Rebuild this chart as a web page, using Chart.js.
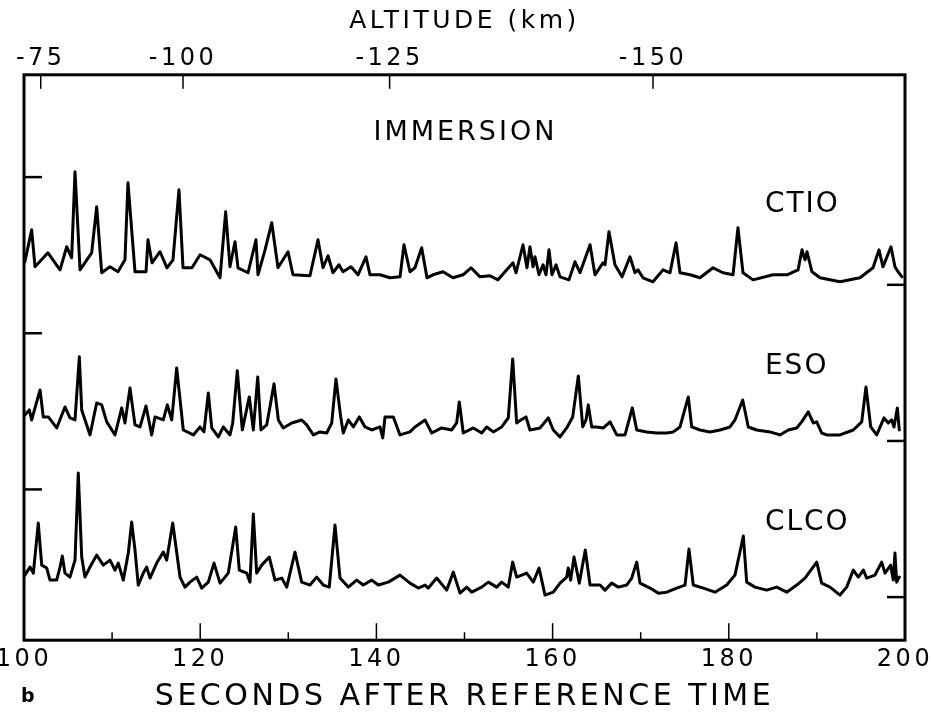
<!DOCTYPE html>
<html><head><meta charset="utf-8">
<script src="https://cdn.jsdelivr.net/npm/chart.js@4.4.1/dist/chart.umd.min.js"></script>
<style>html,body{margin:0;padding:0;background:#fff;}#wrap{width:931px;height:715px;}</style>
</head><body><div id="wrap"><canvas id="c" width="931" height="715"></canvas></div>
<script>
// ---- data (seconds after reference time, relative signal) ----
const secondsTicks = [100, 120, 140, 160, 180, 200];
const secondsMinorTicks = [110, 130, 150, 170, 190];
const altitudeTickSeconds = [101.9, 118.05, 141.5, 171.4];
const altitudeLabels = ['-75', '-100', '-125', '-150'];
const stationNames = ['CTIO', 'ESO', 'CLCO'];
const traceOffsets = [29, 14.5, 0];
const referenceLevel = 10;

const ctioTime = [
100.1,100.87,101.25,102.72,104.09,104.85,105.41,105.79,106.36,107.68,
108.25,108.82,109.76,110.67,111.46,111.8,112.6,113.85,114.07,114.53,
115.44,116.23,116.91,117.59,118.05,119.07,119.98,121.11,122.25,122.89,
123.38,123.95,124.29,125.43,126.33,126.56,127.36,128.12,128.83,129.97,
130.53,132.46,133.37,133.94,134.51,135.07,135.75,136.21,137.12,137.91,
138.82,139.27,140.41,141.54,142.68,143.13,143.81,144.38,145.14,145.74,
146.42,147.56,148.69,149.83,150.74,151.76,152.89,153.8,154.6,155.51,
155.85,156.64,157.09,157.43,157.78,158.0,158.46,158.91,159.25,159.59,
159.93,160.39,160.84,161.86,162.54,163.11,164.25,164.81,165.72,165.95,
166.4,167.08,167.88,168.78,169.35,169.69,170.26,171.4,172.53,173.33,
174.01,174.46,175.6,176.73,178.21,179.34,180.48,181.04,181.61,182.75,
185.02,186.61,187.86,188.31,188.65,188.88,189.44,190.35,192.62,194.89,
196.37,197.05,197.5,198.41,198.86,199.21,199.66];
const ctioSignal = [
2.14,5.11,1.67,2.97,1.39,3.53,2.51,10.5,1.39,2.97,
7.25,1.12,1.67,1.21,2.32,9.48,1.21,1.21,4.18,2.04,
3.07,1.58,2.32,8.83,1.58,1.58,2.79,2.32,0.65,6.78,
1.67,4.0,1.58,1.12,4.18,0.93,3.25,5.76,1.58,3.07,
0.93,0.84,4.18,1.58,2.7,1.12,1.86,1.21,1.67,0.93,
2.6,0.93,0.93,0.65,0.74,3.72,1.21,1.58,3.44,0.65,
0.93,1.21,0.65,0.93,1.58,0.74,0.84,0.46,1.21,2.04,
1.12,3.72,1.58,3.53,1.67,2.6,0.93,1.86,0.93,3.25,
0.93,1.86,0.74,0.46,2.14,1.12,3.72,0.93,2.04,1.86,
4.93,1.86,0.74,2.6,1.12,1.39,0.65,0.28,1.39,1.12,
3.9,1.12,0.93,0.65,1.58,1.12,0.93,5.3,1.12,0.46,
0.93,0.93,1.39,3.25,2.32,3.07,1.21,0.65,0.28,0.65,
1.58,3.25,1.67,3.53,1.67,1.21,0.74];

const esoTime = [
100.1,100.6,100.87,101.82,102.19,102.76,103.71,104.65,105.22,105.79,
106.28,106.55,107.49,108.25,108.82,109.39,110.33,111.09,111.46,112.03,
112.6,113.17,113.85,114.49,114.87,115.81,116.27,116.77,117.33,118.08,
119.22,119.98,120.43,120.92,121.31,122.05,122.62,123.38,123.69,124.21,
124.78,125.57,126.03,126.53,126.9,127.55,128.38,128.87,129.43,130.39,
131.52,132.09,132.84,133.6,134.36,134.93,135.41,135.95,136.24,136.81,
137.38,138.06,138.71,139.47,140.41,140.72,140.98,141.92,142.68,143.81,
144.38,145.52,146.28,147.41,148.55,149.11,149.41,149.86,151.0,151.95,
152.52,153.27,154.22,154.97,155.47,155.92,156.38,156.98,157.43,158.57,
159.51,160.08,160.84,161.6,162.28,162.92,163.42,163.79,164.05,164.44,
165.01,165.76,166.52,167.28,168.22,169.05,169.55,170.68,171.82,172.95,
173.7,174.46,175.4,175.79,176.73,177.87,179.0,180.14,180.7,181.58,
182.21,183.17,184.68,185.81,186.75,187.71,188.27,189.02,189.59,189.98,
190.54,191.11,192.62,194.13,195.09,195.57,196.11,196.79,197.62,198.1,
198.49,198.75,199.13,199.35];
const esoSignal = [
2.42,2.88,1.95,4.74,2.23,2.23,1.21,3.16,2.14,1.95,
7.81,2.88,0.56,3.53,3.35,1.77,0.56,3.07,1.67,4.93,
1.49,1.3,3.25,0.56,2.23,1.95,3.35,1.95,6.78,1.02,
0.56,1.3,0.84,4.46,1.21,0.37,1.3,0.56,1.67,6.51,
1.02,4.09,1.02,5.95,1.02,1.49,5.3,1.95,1.21,1.67,
1.95,1.49,0.56,0.84,0.74,1.67,5.76,2.23,0.74,1.95,
1.3,2.23,1.3,1.02,1.3,0.28,2.23,2.23,0.56,0.84,
1.3,1.95,0.74,1.21,1.02,1.67,3.62,0.74,1.21,0.74,
1.3,0.84,1.3,2.14,7.62,1.67,1.95,2.23,1.02,1.21,
2.14,1.02,0.37,1.21,2.23,6.04,1.3,1.95,3.35,1.3,
1.3,1.21,1.77,0.56,0.56,3.07,1.02,0.84,0.74,0.74,
0.84,1.3,4.09,1.3,1.02,0.84,1.02,1.3,1.95,3.81,
1.3,1.02,0.84,0.56,1.02,1.21,1.77,2.7,1.67,1.77,
0.74,0.56,0.56,1.02,1.77,5.02,1.3,0.56,2.14,1.67,
1.95,1.3,3.07,1.02];

const clcoTime = [
100.1,100.68,101.06,101.62,102.01,102.58,102.95,103.71,104.09,104.35,
104.65,105.22,105.79,106.16,106.55,106.92,107.49,108.25,109.0,109.76,
110.33,110.7,111.27,111.84,112.22,112.6,112.97,113.54,113.93,114.3,
115.06,115.81,116.2,116.88,117.25,117.71,118.27,118.84,119.6,120.17,
120.92,121.57,122.25,123.19,124.03,124.44,125.28,125.65,126.03,126.41,
126.98,127.84,128.49,129.25,129.82,130.76,131.52,132.46,133.22,133.97,
134.65,135.3,135.87,136.81,137.76,138.51,139.47,140.22,141.35,142.68,
143.81,144.76,145.52,145.89,146.84,147.98,148.73,149.49,150.25,150.82,
151.95,152.7,153.65,154.22,154.97,155.47,155.92,157.06,157.81,158.46,
159.14,160.08,160.84,161.6,161.78,162.05,162.43,163.03,163.71,164.25,
165.38,165.95,166.71,167.46,168.41,168.98,169.55,169.92,171.06,172.0,
172.95,174.09,175.03,175.48,175.97,177.11,178.43,179.76,180.7,181.65,
182.03,182.97,184.3,185.44,186.57,187.71,188.65,189.98,190.54,191.49,
192.62,193.38,194.13,194.7,195.27,195.65,196.59,197.35,197.73,198.38,
198.67,198.86,199.05,199.35];
const clcoSignal = [
2.04,2.79,2.23,6.88,2.97,2.7,1.58,1.58,2.79,3.81,
2.23,1.86,3.44,11.52,3.72,1.86,2.79,3.9,2.97,3.44,
2.51,3.16,1.58,4.09,6.97,4.37,1.12,2.23,2.79,1.77,
3.16,4.18,3.44,6.88,4.65,1.86,0.93,1.39,1.86,0.84,
1.39,3.16,1.3,2.23,6.51,2.51,2.23,1.39,7.71,2.23,
2.97,3.72,1.58,1.77,0.93,4.18,1.39,1.12,1.86,1.12,
0.93,6.69,1.77,0.93,1.58,1.12,1.58,1.12,1.39,2.04,
1.3,0.84,1.12,0.84,1.77,0.65,2.32,0.37,0.93,0.46,
0.93,1.39,0.93,1.39,0.93,3.25,1.86,2.23,1.39,2.7,
0.19,0.46,1.3,1.86,2.7,1.58,3.72,1.3,4.37,1.12,
1.12,0.65,1.3,0.93,1.12,1.77,3.25,1.3,0.84,0.37,
0.46,0.84,1.12,4.46,1.12,0.84,0.46,1.12,2.04,5.67,
1.39,0.93,0.65,0.93,0.46,1.12,1.77,3.25,1.3,0.93,
0.19,0.93,2.51,1.86,2.51,1.77,2.04,3.25,2.23,2.97,
1.58,4.09,1.39,1.86];

// ---- chart ----
const FAM = '"DejaVu Sans", "Liberation Sans", sans-serif';
const seriesTimes = [ctioTime, esoTime, clcoTime];
const seriesSignals = [ctioSignal, esoSignal, clcoSignal];

const datasets = stationNames.map((name, k) => ({
  label: name,
  data: seriesTimes[k].map((t, i) => ({ x: t, y: seriesSignals[k][i] + traceOffsets[k] })),
  borderColor: '#000',
  borderWidth: 3,
  pointRadius: 0,
  tension: 0,
  borderJoinStyle: 'round',
  borderCapStyle: 'round',
  fill: false
}));

function line(ctx, x1, y1, x2, y2) { ctx.beginPath(); ctx.moveTo(x1, y1); ctx.lineTo(x2, y2); ctx.stroke(); }

const SPACING = '3.5px';
const spacingPlugin = {
  id: 'spacing',
  beforeUpdate(chart) { chart.ctx.letterSpacing = SPACING; },
  beforeLayout(chart) { chart.ctx.letterSpacing = SPACING; },
  beforeDraw(chart) { chart.ctx.letterSpacing = SPACING; }
};

const decorPlugin = {
  id: 'decor',
  afterDatasetsDraw(chart) {
    const { ctx, chartArea: a, scales } = chart;
    const x = scales.x, x2 = scales.x2, y = scales.y;
    ctx.save();
    ctx.strokeStyle = '#000';
    ctx.lineCap = 'butt';
    // frame
    ctx.lineWidth = 3;
    ctx.strokeRect(a.left, a.top, a.right - a.left, a.bottom - a.top);
    // bottom inner ticks
    ctx.lineWidth = 1.5;
    secondsTicks.slice(1, -1).forEach(s => {
      const px = x.getPixelForValue(s);
      line(ctx, px, a.bottom, px, a.bottom - 17);
    });
    secondsMinorTicks.forEach(s => {
      const px = x.getPixelForValue(s);
      line(ctx, px, a.bottom, px, a.bottom - 8);
    });
    // top altitude ticks
    altitudeTickSeconds.forEach(s => {
      const px = x2.getPixelForValue(s);
      line(ctx, px, a.top, px, a.top + 14);
    });
    // reference marks for each trace
    ctx.lineWidth = 2.5;
    traceOffsets.forEach(off => {
      const yr = y.getPixelForValue(off + referenceLevel);
      line(ctx, a.left, yr, a.left + 18, yr);
      const y0 = y.getPixelForValue(off);
      line(ctx, a.right - 18, y0, a.right, y0);
    });
    // texts
    ctx.fillStyle = '#000';
    ctx.textBaseline = 'middle';
    ctx.font = '27px ' + FAM;
    ctx.letterSpacing = '3px';
    ctx.textAlign = 'center';
    ctx.fillText('IMMERSION', x.getPixelForValue(150.1), y.getPixelForValue(43.1));
    ctx.textAlign = 'left';
    ctx.font = '28px ' + FAM;
    ctx.letterSpacing = '2px';
    const labelY = [36.4, 21.4, 6.9];
    stationNames.forEach((n, k) => {
      ctx.fillText(n, x.getPixelForValue(184.1), y.getPixelForValue(labelY[k]));
    });
    ctx.letterSpacing = '0px';
    ctx.font = 'bold 19px ' + FAM;
    ctx.fillText('b', a.left - 3, chart.height - 18);
    ctx.restore();
  }
};

new Chart(document.getElementById('c'), {
  type: 'line',
  data: { datasets },
  plugins: [spacingPlugin, decorPlugin],
  options: {
    responsive: false,
    animation: false,
    devicePixelRatio: 1,
    layout: { padding: { top: 6, right: 0, bottom: 0, left: 0 } },
    plugins: { legend: { display: false }, tooltip: { enabled: false } },
    scales: {
      x: {
        type: 'linear', position: 'bottom', min: 100, max: 200,
        afterBuildTicks: s => { s.ticks = secondsTicks.map(v => ({ value: v })); },
        afterFit: s => { s.paddingLeft = 24; s.paddingRight = 26; },
        ticks: { font: { family: FAM, size: 24 }, color: '#000', padding: 5, maxRotation: 0, autoSkip: false,
                 callback: v => String(v) },
        grid: { display: false, drawTicks: false },
        border: { display: false },
        title: { display: true, text: 'SECONDS AFTER REFERENCE TIME', color: '#000',
                 font: { family: FAM, size: 30 }, padding: { top: 0, bottom: 0 } }
      },
      x2: {
        type: 'linear', position: 'top', min: 100, max: 200,
        afterBuildTicks: s => { s.ticks = altitudeTickSeconds.map(v => ({ value: v })); },
        afterFit: s => { s.paddingLeft = 0; s.paddingRight = 0; },
        ticks: { font: { family: FAM, size: 24 }, color: '#000', padding: 2, maxRotation: 0, autoSkip: false,
                 callback: (v, i) => altitudeLabels[i] },
        grid: { display: false, drawTicks: false },
        border: { display: false },
        title: { display: true, text: 'ALTITUDE (km)', color: '#000',
                 font: { family: FAM, size: 25 }, padding: { top: 0, bottom: 6 } }
      },
      y: { type: 'linear', min: -4, max: 48.5, display: false }
    }
  }
});
</script>
</body></html>
